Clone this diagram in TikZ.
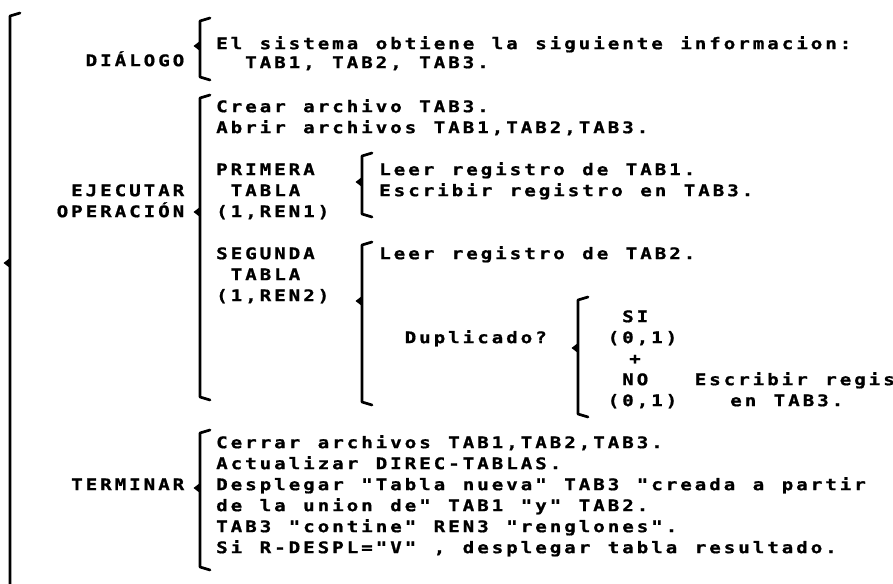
\documentclass[tikz,border=0pt]{standalone}
\usepackage{fontspec}
\newfontfamily\printfont{DejaVu Sans Mono}[FakeStretch=1.2,FakeBold=1,LetterSpace=18.4,Ligatures=TeXOff]
\newcommand{\drucker}{\printfont\bfseries\fontsize{16}{21}\selectfont\spaceskip=17.44pt\relax}

% Klammer: x, oben, Spitze, unten
\newcommand{\wklammer}[4]{%
  \draw[klammer] (#1+1.0,-#2) -- (#1,-#2-0.3) -- (#1,-#4+0.3) -- (#1+1.0,-#4);
  \fill (#1,-#3+0.5) -- (#1-0.65,-#3) -- (#1,-#3-0.5) -- cycle;}

\begin{document}
\begin{tikzpicture}[x=10pt,y=10pt,
    txt/.style={font=\drucker, anchor=mid west, inner sep=0pt},
    klammer/.style={line width=2.7pt, line cap=round, line join=round}]
  \useasboundingbox (0,0) rectangle (89.3,-58.3);

  % Klammern
  \draw[klammer] (2.0,-1.3) -- (1.0,-1.6) -- (1.0,-59.5);
  \fill (1.0,-25.8) -- (0.35,-26.3) -- (1.0,-26.8) -- cycle;
  \wklammer{20.0}{1.8}{4.6}{8.0}
  \wklammer{20.0}{9.5}{21.2}{40.0}
  \wklammer{36.2}{15.3}{18.2}{21.7}
  \wklammer{36.2}{24.2}{30.1}{40.5}
  \wklammer{57.8}{29.7}{34.8}{41.7}
  \wklammer{20.0}{43.0}{48.8}{57.0}

  % Beschriftungen
  \node[txt] (dialogo) at (8.55,-6.4) {DIÁLOGO};
  \node[txt] (info1) at (21.6,-4.7) {El sistema obtiene la siguiente informacion:};
  \node[txt] (info2) at (24.5,-6.6) {TAB1, TAB2, TAB3.};

  \node[txt] (ejecutar) at (7.1,-19.4) {EJECUTAR};
  \node[txt] (operacion) at (5.65,-21.5) {OPERACIÓN};
  \node[txt] (crear) at (21.6,-11.0) {Crear archivo TAB3.};
  \node[txt] (abrir) at (21.6,-13.1) {Abrir archivos TAB1,TAB2,TAB3.};

  \node[txt] (primera) at (21.6,-17.3) {PRIMERA};
  \node[txt] (tabla1) at (23.05,-19.4) {TABLA};
  \node[txt] (ren1) at (21.6,-21.5) {(1,REN1)};
  \node[txt] (leer1) at (37.9,-17.3) {Leer registro de TAB1.};
  \node[txt] (escr1) at (37.9,-19.4) {Escribir registro en TAB3.};

  \node[txt] (segunda) at (21.6,-25.7) {SEGUNDA};
  \node[txt] (tabla2) at (23.05,-27.8) {TABLA};
  \node[txt] (ren2) at (21.6,-29.9) {(1,REN2)};
  \node[txt] (leer2) at (37.9,-25.7) {Leer registro de TAB2.};

  \node[txt] (dupl) at (40.45,-34.1) {Duplicado?};
  \node[txt] (si) at (62.2,-32.0) {SI};
  \node[txt] (si01) at (60.75,-34.1) {(0,1)};
  \node[txt] (plus) at (62.9,-36.2) {+};
  \node[txt] (no) at (62.2,-38.3) {NO};
  \node[txt] (no01) at (60.75,-40.4) {(0,1)};
  \node[txt] (escr2) at (69.45,-38.3) {Escribir registro};
  \node[txt] (escr3) at (73.0,-40.4) {en TAB3.};

  \node[txt] (terminar) at (7.1,-48.8) {TERMINAR};
  \foreach \zeile [count=\i from 0] in {%
      {Cerrar archivos TAB1,TAB2,TAB3.},
      {Actualizar DIREC-TABLAS.},
      {Desplegar "Tabla nueva" TAB3 "creada a partir},
      {de la union de" TAB1 "y" TAB2.},
      {TAB3 "contine" REN3 "renglones".},
      {Si R-DESPL="V" , desplegar tabla resultado.}}
    \node[txt] (term\i) at (21.6,-44.6-2.1*\i) {\zeile};
\end{tikzpicture}
\end{document}
